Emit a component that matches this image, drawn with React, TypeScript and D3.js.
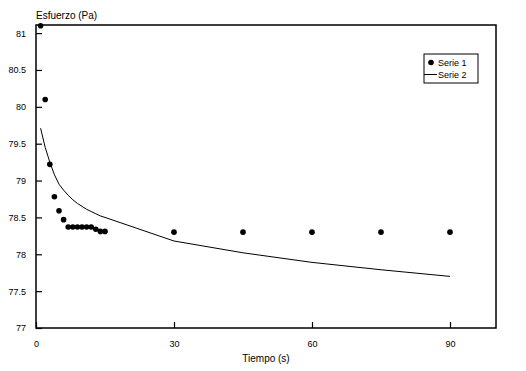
import React, { useEffect, useRef } from 'react';
import * as d3 from 'd3';

// Serie 1: puntos medidos
const tiempo1 = [1, 2, 3, 4, 5, 6, 7, 8, 9, 10, 11, 12, 13, 14, 15, 30, 45, 60, 75, 90];
const esfuerzo1 = [81.1, 80.1, 79.22, 78.78, 78.59, 78.47, 78.37, 78.37, 78.37, 78.37, 78.37, 78.37,
    78.34, 78.31, 78.31, 78.3, 78.3, 78.3, 78.3, 78.3];

// Serie 2: curva ajustada
const tiempo2 = [1, 2, 3, 4, 5, 6, 7, 8, 9, 10, 11, 12, 13, 14, 15, 30, 45, 60, 75, 90];
const esfuerzo2 = [79.71, 79.45, 79.25, 79.08, 78.95, 78.87, 78.8, 78.74, 78.69, 78.65, 78.61, 78.58,
    78.55, 78.52, 78.5, 78.18, 78.02, 77.89, 77.79, 77.7];

const xTicks = [0, 30, 60, 90];
const yTicks = [77, 77.5, 78, 78.5, 79, 79.5, 80, 80.5, 81];
const seriesNames = ['Serie 1', 'Serie 2'];

const W = 526;
const H = 371;
const FONT = '"Liberation Sans", Arial, sans-serif';

const App = () => {
    const svgRef = useRef<SVGSVGElement | null>(null);

    useEffect(() => {
        drawChart();
    }, []);

    const drawChart = () => {
        const margin = { top: 25, right: 30, bottom: 43, left: 36 };
        const width = W - margin.left - margin.right;
        const height = H - margin.top - margin.bottom;

        const root = d3.select(svgRef.current);
        root.selectAll('*').remove();

        const svg = root.append('g').attr('transform', `translate(${margin.left},${margin.top})`);

        const xScale = d3.scaleLinear().domain([0, 100]).range([0, width]);
        const yScale = d3.scaleLinear().domain([77, 81.11]).range([height, 0]);

        // frame
        svg.append('rect')
            .attr('width', width)
            .attr('height', height)
            .attr('fill', 'none')
            .attr('stroke', '#000')
            .attr('stroke-width', 1.5);

        // y ticks
        const yAxis = d3.axisLeft(yScale).tickValues(yTicks).tickSize(-6).tickPadding(10)
            .tickFormat(d => String(d));
        const gy = svg.append('g').call(yAxis);
        gy.select('.domain').remove();
        gy.selectAll('line').attr('stroke-width', 1.2);
        gy.selectAll('text').attr('font-family', FONT).attr('font-size', 9).attr('fill', '#000');

        // x ticks
        const xAxis = d3.axisBottom(xScale).tickValues(xTicks).tickSize(-6).tickPadding(13)
            .tickFormat(d => String(d));
        const gx = svg.append('g').attr('transform', `translate(0,${height})`).call(xAxis);
        gx.select('.domain').remove();
        gx.selectAll('line').attr('stroke-width', 1.2);
        gx.selectAll('text').attr('font-family', FONT).attr('font-size', 9).attr('fill', '#000');

        // line series
        const line = d3.line<number>()
            .x((_, i) => xScale(tiempo2[i]))
            .y(d => yScale(d));
        svg.append('path')
            .datum(esfuerzo2)
            .attr('d', line)
            .attr('fill', 'none')
            .attr('stroke', '#000')
            .attr('stroke-width', 1);

        // points
        svg.selectAll('circle.pt')
            .data(esfuerzo1)
            .enter()
            .append('circle')
            .attr('class', 'pt')
            .attr('cx', (_, i) => xScale(tiempo1[i]))
            .attr('cy', d => yScale(d))
            .attr('r', 2.8)
            .attr('fill', '#000');

        // axis titles
        root.append('text')
            .attr('x', margin.left)
            .attr('y', 19)
            .attr('font-family', FONT)
            .attr('font-size', 10)
            .text('Esfuerzo (Pa)');

        root.append('text')
            .attr('x', margin.left + width / 2)
            .attr('y', 362)
            .attr('text-anchor', 'middle')
            .attr('font-family', FONT)
            .attr('font-size', 10)
            .text('Tiempo (s)');

        // legend
        const lg = root.append('g').attr('transform', 'translate(424,54)');
        lg.append('rect')
            .attr('width', 54)
            .attr('height', 29)
            .attr('fill', '#fff')
            .attr('stroke', '#000')
            .attr('stroke-width', 1);
        lg.append('circle').attr('cx', 7).attr('cy', 8.5).attr('r', 2.8).attr('fill', '#000');
        lg.append('line')
            .attr('x1', 0).attr('x2', 13)
            .attr('y1', 20.5).attr('y2', 20.5)
            .attr('stroke', '#000');
        lg.selectAll('text.lab')
            .data(seriesNames)
            .enter()
            .append('text')
            .attr('class', 'lab')
            .attr('x', 14)
            .attr('y', (_, i) => 11.5 + i * 12)
            .attr('font-family', FONT)
            .attr('font-size', 9)
            .text(d => d);
    };

    return (
        <svg ref={svgRef} width={W} height={H}
            style={{ position: 'absolute', left: 0, top: 0, background: '#fff' }} />
    );
};

export default App;
